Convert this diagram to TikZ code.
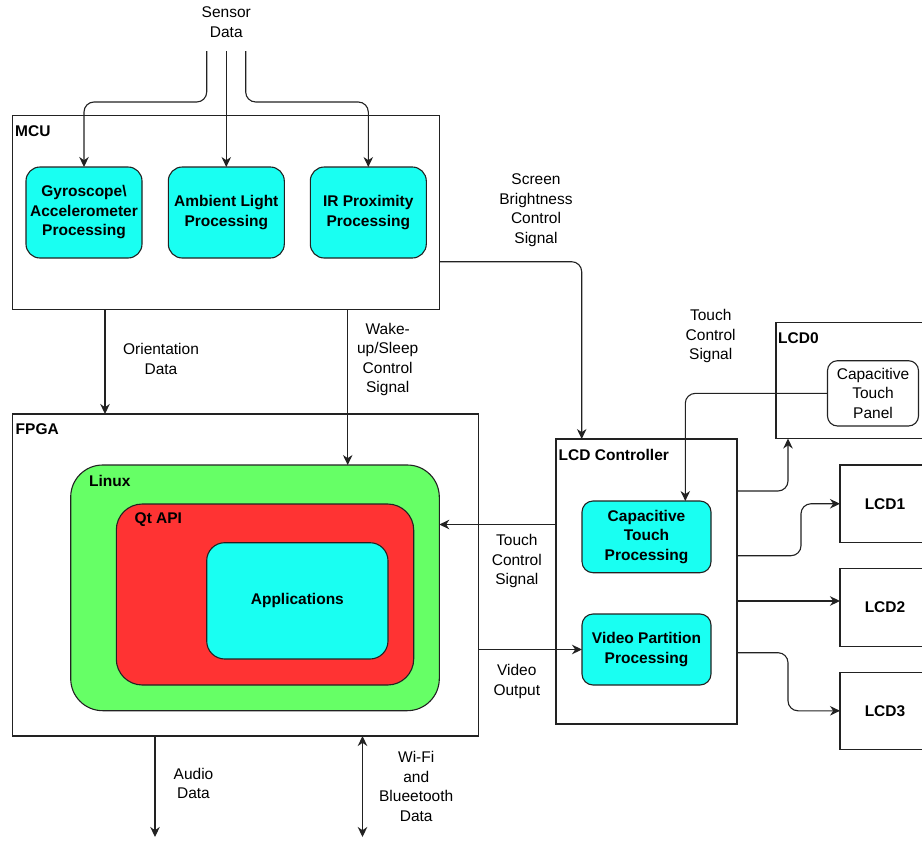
\documentclass[tikz,border=0pt]{standalone}
\usepackage{fontspec}
\setmainfont{Liberation Sans}
\usetikzlibrary{arrows.meta}
\definecolor{procCyan}{HTML}{19FFF2}
\definecolor{linuxGreen}{HTML}{66FF66}
\definecolor{qtRed}{HTML}{FF3333}
\definecolor{ink}{HTML}{222222}
\begin{document}
\begin{tikzpicture}[x=1pt,y=-1pt,
  txt/.style={font=\fontsize{15.5}{19.5}\selectfont, align=center, inner sep=0pt},
  ttl/.style={font=\fontsize{15.5}{19.5}\selectfont\bfseries, inner sep=0pt, anchor=west},
  box/.style={draw=ink, line width=1.1pt, inner sep=0pt, outer sep=0pt},
  proc/.style={box, rounded corners=14pt, fill=procCyan, align=center,
    font=\fontsize{15.5}{19.5}\selectfont\bfseries},
  lcdbox/.style={box, minimum width=90pt, minimum height=77.5pt,
    font=\fontsize{15.5}{19.5}\selectfont\bfseries},
  link/.style={draw=ink, line width=1.1pt, rounded corners=10pt},
  tip/.tip={Stealth[length=10pt,width=9.5pt,inset=3.2pt]},
  arr/.style={link, -tip},
  biarr/.style={link, tip-tip}]

\useasboundingbox (0,0) rectangle (922,841);
\fill[white] (0,0) rectangle (922,841);

% ---------- MCU ----------
\node[box, minimum width=426.6pt, minimum height=194.3pt] (mcu) at (226,212.2) {};
\node[ttl] (mcuT) at (15,131) {MCU};
\node[proc, minimum width=116pt, minimum height=91pt] (gyro) at (84,212.5)
  {Gyroscope\textbackslash\\Accelerometer\\Processing};
\node[proc, minimum width=116pt, minimum height=91pt] (amb) at (226.3,212.5)
  {Ambient Light\\Processing};
\node[proc, minimum width=116pt, minimum height=91pt] (ir) at (368.3,212.5)
  {IR Proximity\\Processing};

% ---------- FPGA ----------
\node[box, minimum width=466pt, minimum height=322pt] (fpga) at (245.7,575) {};
\node[ttl] (fpgaT) at (15.5,429) {FPGA};
\node[box, fill=linuxGreen, rounded corners=32pt, minimum width=368.6pt,
  minimum height=245.7pt] (linux) at (255,587.85) {};
\node[ttl] (linuxT) at (89,481) {Linux};
\node[box, fill=qtRed, rounded corners=26pt, minimum width=297.4pt,
  minimum height=181pt] (qt) at (265,594.5) {};
\node[ttl] (qtT) at (134.5,519.3) {Qt API};
\node[proc, rounded corners=18pt, minimum width=181.3pt, minimum height=116.3pt]
  (apps) at (297.35,600.85) {Applications};

% ---------- LCD controller ----------
\node[box, minimum width=181pt, minimum height=285pt] (lcdc) at (646.5,581.5) {};
\node[ttl] (lcdcT) at (558.5,455) {LCD Controller};
\node[proc, rounded corners=11pt, minimum width=129pt, minimum height=71.7pt]
  (ctp) at (646.5,536.85) {Capacitive\\Touch\\Processing};
\node[proc, rounded corners=11pt, minimum width=129pt, minimum height=71pt]
  (vidp) at (646.5,649.5) {Video Partition\\Processing};

% ---------- displays ----------
\node[box, minimum width=154pt, minimum height=116.2pt] (lcd0) at (853,380.4) {};
\node[ttl] (lcd0T) at (778,338) {LCD0};
\node[box, rounded corners=10pt, fill=white, align=center,
  font=\fontsize{15.5}{19.5}\selectfont, minimum width=91pt, minimum height=65.3pt]
  (panel) at (873,393.35) {Capacitive\\Touch\\Panel};
\node[lcdbox] (lcd1) at (885,503.75) {LCD1};
\node[lcdbox] (lcd2) at (885,607.35) {LCD2};
\node[lcdbox] (lcd3) at (885,710.8) {LCD3};

% ---------- labels ----------
\node[txt] (sensorL) at (226.3,22) {Sensor\\Data};
\node[txt] (brightL) at (536,210) {Screen\\Brightness\\Control\\Signal};
\node[txt] (touchUpL) at (710.7,336) {Touch\\Control\\Signal};
\node[txt] (orientL) at (161,359) {Orientation\\Data};
\node[txt] (wakeL) at (387.7,359.5) {Wake-\\up/Sleep\\Control\\Signal};
\node[txt] (touchL) at (516.8,561) {Touch\\Control\\Signal};
\node[txt] (videoL) at (516.8,681.5) {Video\\Output};
\node[txt] (audioL) at (193.5,783.5) {Audio\\Data};
\node[txt] (wifiL) at (416.2,786.5) {Wi-Fi\\and\\Blueetooth\\Data};

% ---------- sensor inputs ----------
\coordinate (s1) at (206.7,51);
\coordinate (s2) at (226.3,51);
\coordinate (s3) at (245.7,51);
\coordinate (sj) at (0,102);
\draw[arr] (s1) -- (s1 |- sj) -| (gyro.north);
\draw[arr] (s2) -- (amb.north);
\draw[arr] (s3) -- (s3 |- sj) -| (ir.north);

% ---------- MCU outputs ----------
\coordinate (oA) at ([xshift=92.3pt]mcu.south west);
\draw[arr] (oA) -- (oA |- fpga.north);
\coordinate (wA) at ([xshift=335pt]mcu.south west);
\draw[arr] (wA) -- (wA |- linux.north);
\coordinate (bA) at ([yshift=-49.5pt]mcu.east);
\coordinate (bB) at ([xshift=-64.8pt]lcdc.north);
\draw[arr] (bA) -| (bB);

% ---------- touch path ----------
\coordinate (tB) at ([xshift=38.8pt]ctp.north);
\draw[arr] (panel.west) -| (tB);
\coordinate (tA) at ([yshift=57pt]lcdc.west);
\draw[arr] (tA) -- (tA -| linux.east);

% ---------- video path ----------
\draw[arr] (fpga.east |- vidp.west) -- (vidp.west);

% ---------- controller to displays ----------
\coordinate (c0) at ([yshift=90.5pt]lcdc.east);
\coordinate (c0e) at ([xshift=-65pt]lcd0.south);
\draw[arr] (c0) -| (c0e);
\coordinate (c1) at ([yshift=25.8pt]lcdc.east);
\draw[arr] (c1) -- ++(64,0) |- (lcd1.west);
\coordinate (c2) at ([yshift=-19.5pt]lcdc.east);
\draw[arr] (c2) -- (c2 -| lcd2.west);
\coordinate (c3) at ([yshift=-71.2pt]lcdc.east);
\draw[arr] (c3) -- ++(51,0) |- (lcd3.west);

% ---------- FPGA external I/O ----------
\coordinate (aA) at ([xshift=142.3pt]fpga.south west);
\coordinate (aB) at ([xshift=142.3pt,yshift=-101pt]fpga.south west);
\draw[arr] (aA) -- (aB);
\coordinate (wfA) at ([xshift=349.8pt]fpga.south west);
\coordinate (wfB) at ([xshift=349.8pt,yshift=-101pt]fpga.south west);
\draw[biarr] (wfA) -- (wfB);
\end{tikzpicture}
\end{document}
